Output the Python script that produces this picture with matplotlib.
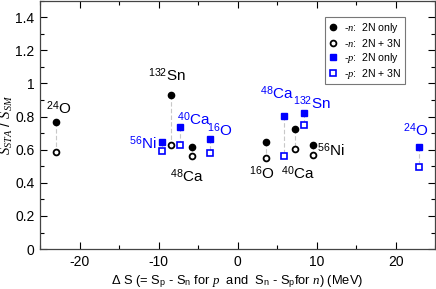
import matplotlib
matplotlib.use("Agg")
import matplotlib.pyplot as plt
from matplotlib.ticker import MultipleLocator

plt.rcParams['font.family'] = ['Liberation Sans', 'DejaVu Sans']
plt.rcParams['mathtext.fontset'] = 'custom'
plt.rcParams['mathtext.rm'] = 'Liberation Sans'
plt.rcParams['mathtext.it'] = 'Liberation Serif:italic'
plt.rcParams['mathtext.bf'] = 'Liberation Sans:bold'

# neutron removal (-n)
n_x = [-23.0, -8.44, -5.82, 3.54, 7.29, 9.57]
n_2N = [0.768, 0.931, 0.617, 0.648, 0.726, 0.628]
n_3N = [0.587, 0.628, 0.563, 0.547, 0.602, 0.571]
# proton removal (-p)
p_x = [-9.54, -7.27, -3.5, 5.82, 8.39, 22.99]
p_2N = [0.644, 0.736, 0.664, 0.805, 0.819, 0.617]
p_3N = [0.591, 0.628, 0.578, 0.563, 0.747, 0.497]

n_labels = [r'$^{\mathregular{24}}$O', r'$^{\mathregular{132}}$Sn', r'$^{\mathregular{48}}$Ca',
            r'$^{\mathregular{16}}$O', r'$^{\mathregular{40}}$Ca', r'$^{\mathregular{56}}$Ni']
n_lab_x = [-22.7, -8.9, -6.4, 3.1, 7.6, 11.8]
n_lab_y = [0.85, 1.05, 0.44, 0.46, 0.46, 0.60]
p_labels = [r'$^{\mathregular{56}}$Ni', r'$^{\mathregular{40}}$Ca', r'$^{\mathregular{16}}$O',
            r'$^{\mathregular{48}}$Ca', r'$^{\mathregular{132}}$Sn', r'$^{\mathregular{24}}$O']
p_lab_x = [-12.0, -5.5, -2.3, 5.0, 9.4, 22.5]
p_lab_y = [0.64, 0.785, 0.72, 0.94, 0.88, 0.72]

fig = plt.figure(figsize=(4.36, 2.89), dpi=100)
ax = fig.add_axes([0.092, 0.138, 0.906, 0.860])

for x, a, b in zip(n_x, n_2N, n_3N):
    ax.plot([x, x], [a, b], color='#c8c8c8', ls=(0, (4, 2)), lw=0.8, zorder=1)
for x, a, b in zip(p_x, p_2N, p_3N):
    ax.plot([x, x], [a, b], color='#c8c8c8', ls=(0, (4, 2)), lw=0.8, zorder=1)

blue = '#0000ff'
ax.plot(n_x, n_2N, 'o', ms=4.5, color='black', mec='black', ls='none', zorder=3,
        label=r'$\mathit{\text{-}n}$:  2N only')
ax.plot(n_x, n_3N, 'o', ms=4.2, mfc='white', mec='black', mew=1.3, ls='none', zorder=3,
        label=r'$\mathit{\text{-}n}$:  2N + 3N')
ax.plot(p_x, p_2N, 's', ms=4.0, color=blue, mec=blue, ls='none', zorder=3,
        label=r'$\mathit{\text{-}p}$:  2N only')
ax.plot(p_x, p_3N, 's', ms=4.0, mfc='white', mec=blue, mew=1.2, ls='none', zorder=3,
        label=r'$\mathit{\text{-}p}$:  2N + 3N')

for t, x, y in zip(n_labels, n_lab_x, n_lab_y):
    ax.text(x, y, t, color='black', fontsize=11, ha='center', va='center')
for t, x, y in zip(p_labels, p_lab_x, p_lab_y):
    ax.text(x, y, t, color=blue, fontsize=11, ha='center', va='center')

ax.set_xlim(-25, 25)
ax.set_ylim(0, 1.5)
ax.xaxis.set_minor_locator(MultipleLocator(5))
ax.yaxis.set_minor_locator(MultipleLocator(0.1))
ax.set_yticks([0, 0.2, 0.4, 0.6, 0.8, 1.0, 1.2, 1.4])
ax.set_yticklabels(['0', '0.2', '0.4', '0.6', '0.8', '1', '1.2', '1.4'])
ax.set_xticks([-20, -10, 0, 10, 20])
ax.set_xticklabels(['-20', '-10', '0', '10', '20'])
ax.tick_params(which='both', direction='in', top=True, right=True, labelsize=10, pad=4)
ax.tick_params(which='major', length=5, width=0.8)
ax.tick_params(which='minor', length=3, width=0.8)
for s in ax.spines.values():
    s.set_linewidth(0.9)
    s.set_color('#444444')

ax.set_xlabel(r'$\Delta$ S (= S$_\mathregular{p}$ - S$_\mathregular{n}$ for $p$  and  S$_\mathregular{n}$ - S$_\mathregular{p}$for $n$) (MeV)',
              fontsize=9.3, labelpad=3)
ax.set_ylabel(r'$S_{STA}$ / $S_{SM}$', fontsize=10.5)
ax.yaxis.set_label_coords(-0.064, 0.5)

leg = ax.legend(loc='upper right', bbox_to_anchor=(0.924, 0.932), fontsize=7.6, frameon=True,
                fancybox=False, edgecolor='#555555', handlelength=0.8, handletextpad=0.7,
                borderpad=0.3, labelspacing=0.2, borderaxespad=0)
leg.get_frame().set_linewidth(0.8)

fig.savefig('out.png', dpi=100)
